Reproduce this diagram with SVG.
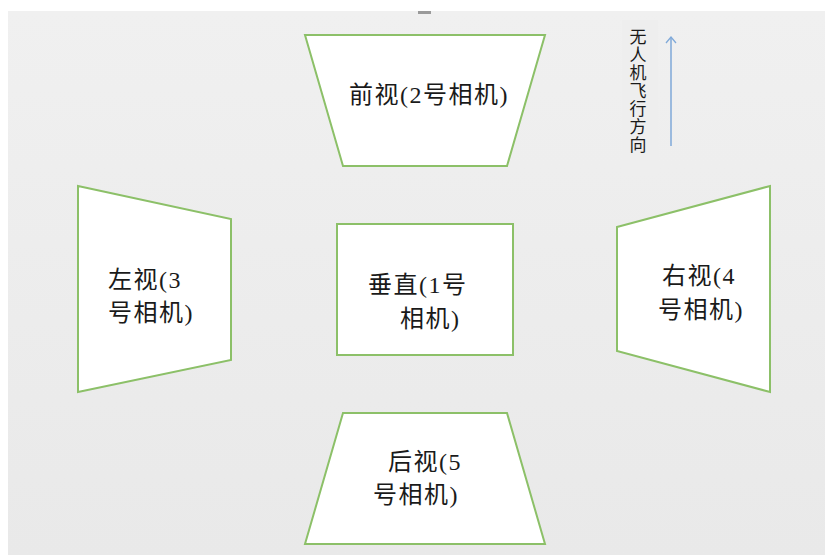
<svg xmlns="http://www.w3.org/2000/svg" width="825" height="555" viewBox="0 0 825 555">
<defs>
<linearGradient id="bg" x1="0" y1="0" x2="0" y2="1">
<stop offset="0" stop-color="#f0f0f0"/>
<stop offset="1" stop-color="#e9e9e9"/>
</linearGradient>
<marker id="head" viewBox="0 0 12 12" refX="10" refY="6" markerWidth="12" markerHeight="12" markerUnits="userSpaceOnUse" orient="auto">
<path d="M4,1 L10,6 L4,11" fill="none" stroke="#7fa9d9" stroke-width="1.3"/>
</marker>
</defs>
<style>
.shape{fill:#ffffff;stroke:#8cc068;stroke-width:2}
.lbl{font-family:"Liberation Serif","Noto Sans CJK SC",serif;font-size:24px;letter-spacing:1.5px;fill:#1a1a1a}
.cjk{font-family:"Noto Sans CJK SC","Noto Sans CJK JP",sans-serif}
.vt{font-family:"Noto Sans CJK SC",sans-serif;font-size:17px;fill:#1a1a1a;writing-mode:vertical-rl;letter-spacing:1px}
</style>
<rect x="0" y="0" width="825" height="555" fill="#ffffff"/>
<rect x="8" y="11" width="817" height="544" fill="url(#bg)"/>
<rect x="418" y="11" width="13" height="3" fill="#9a9a9a"/>
<rect x="622" y="20" width="36" height="155" fill="#eeeeee"/>

<g id="front">
<polygon class="shape" points="305,35 545,35 507,166 343,166"/>
<text class="lbl" x="349" y="103"><tspan class="cjk">前视</tspan>(2<tspan class="cjk">号相机</tspan>)</text>
</g>
<g id="left">
<polygon class="shape" points="78,186 231,219 231,360 78,392"/>
<text class="lbl"><tspan x="108" y="288"><tspan class="cjk">左视</tspan>(3</tspan><tspan x="108" y="321"><tspan class="cjk">号相机</tspan>)</tspan></text>
</g>
<g id="vertical">
<rect class="shape" x="337" y="224" width="176" height="131"/>
<text class="lbl"><tspan x="368" y="293"><tspan class="cjk">垂直</tspan>(1<tspan class="cjk">号</tspan></tspan><tspan x="400" y="327"><tspan class="cjk">相机</tspan>)</tspan></text>
</g>
<g id="right">
<polygon class="shape" points="617,227 770,186 770,392 617,351"/>
<text class="lbl"><tspan x="662" y="284"><tspan class="cjk">右视</tspan>(4</tspan><tspan x="658" y="318"><tspan class="cjk">号相机</tspan>)</tspan></text>
</g>
<g id="back">
<polygon class="shape" points="343,413 507,413 545,544 305,544"/>
<text class="lbl"><tspan x="388" y="470"><tspan class="cjk">后视</tspan>(5</tspan><tspan x="373" y="503"><tspan class="cjk">号相机</tspan>)</tspan></text>
</g>
<g id="direction">
<text class="vt" x="638" y="28">无人机飞行方向</text>
</g>
<g id="connectors">
<line x1="671" y1="146" x2="671" y2="37" stroke="#7fa9d9" stroke-width="1.5" marker-end="url(#head)"/>
</g>
</svg>
